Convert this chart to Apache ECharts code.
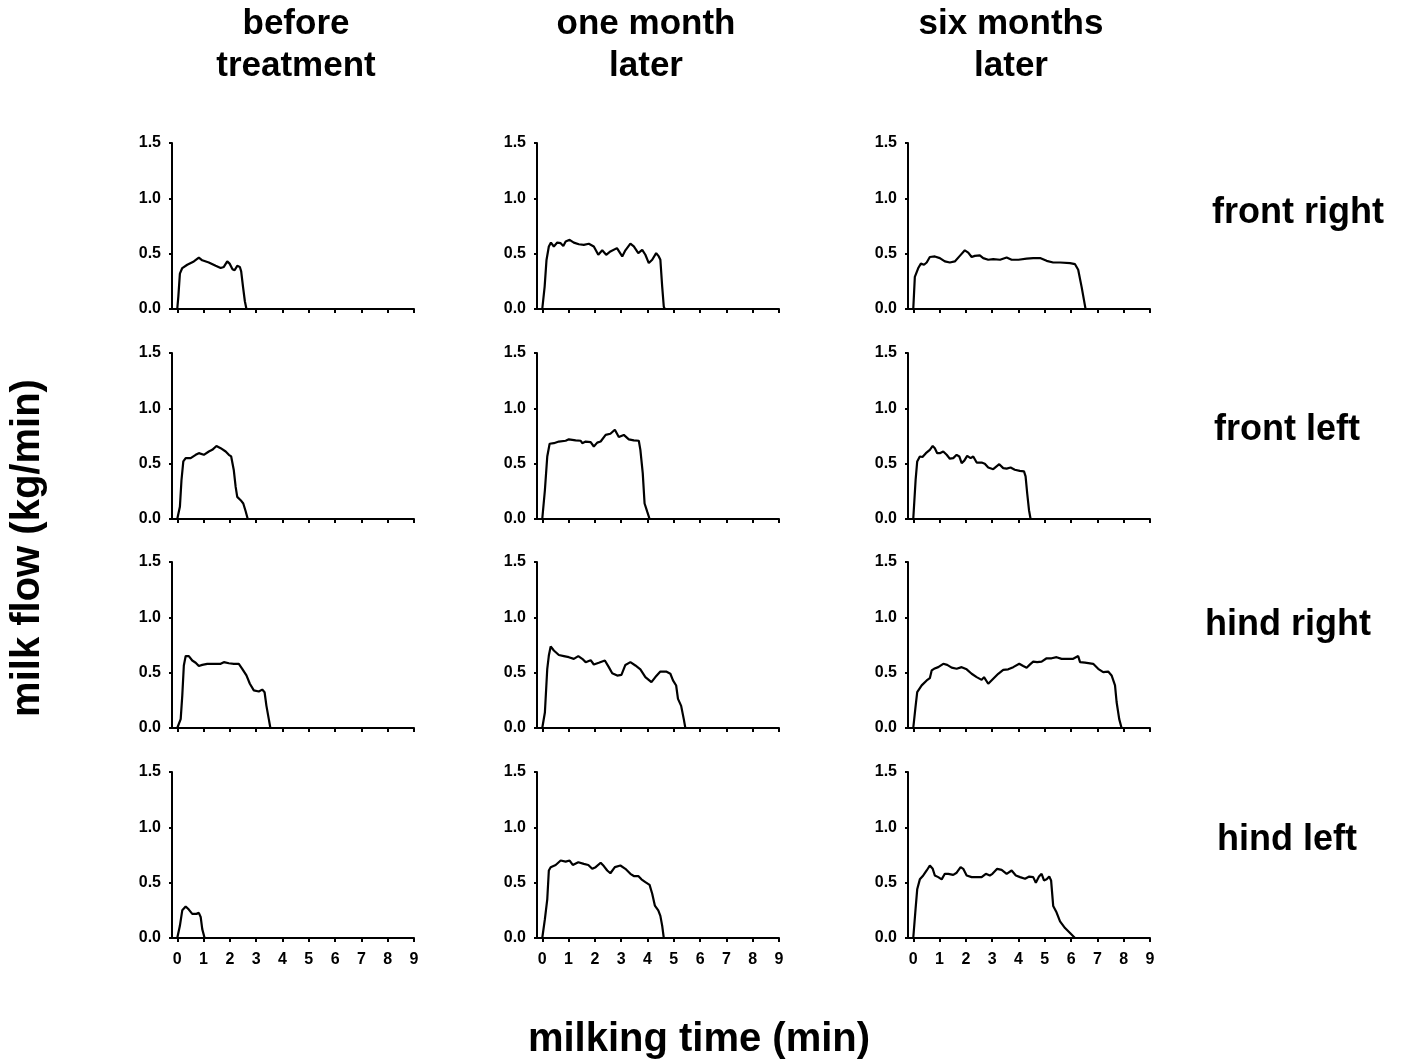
<!DOCTYPE html>
<html>
<head>
<meta charset="utf-8">
<script src="https://cdn.jsdelivr.net/npm/echarts@6/dist/echarts.min.js"></script>
<style>
  html, body { margin: 0; padding: 0; background: #fff; }
  #chart { width: 1404px; height: 1064px; }
</style>
</head>
<body>
<div id="chart"></div>
<script>
// column / row labels
const columnTitles = [['before', 'treatment'], ['one month', 'later'], ['six months', 'later']];
const rowTitles = ['front right', 'front left', 'hind right', 'hind left'];
const xTickValues = [0, 1, 2, 3, 4, 5, 6, 7, 8, 9];
const yTickValues = [0, 0.5, 1.0, 1.5];

// milk flow (kg/min) vs milking time (min), one array per panel
const frontRightBefore = [[0,0],[0.04,0.11],[0.1,0.32],[0.19,0.37],[0.38,0.4],[0.63,0.43],[0.82,0.465],[0.95,0.44],[1.2,0.42],[1.46,0.39],[1.65,0.37],[1.77,0.38],[1.9,0.43],[1.99,0.41],[2.1,0.36],[2.18,0.35],[2.28,0.39],[2.38,0.38],[2.43,0.34],[2.5,0.2],[2.57,0.07],[2.63,0],[9,0]];
const frontRightMonth = [[0,0],[0.09,0.2],[0.16,0.44],[0.25,0.565],[0.33,0.6],[0.44,0.565],[0.57,0.6],[0.7,0.595],[0.8,0.57],[0.89,0.61],[1.04,0.625],[1.2,0.6],[1.39,0.585],[1.58,0.58],[1.77,0.59],[1.96,0.565],[2.13,0.49],[2.28,0.53],[2.43,0.49],[2.59,0.52],[2.84,0.55],[3.04,0.475],[3.16,0.53],[3.35,0.59],[3.48,0.565],[3.65,0.505],[3.8,0.535],[3.92,0.49],[4.05,0.415],[4.18,0.445],[4.33,0.505],[4.43,0.475],[4.49,0.445],[4.56,0.2],[4.62,0.02],[4.66,0],[9,0]];
const frontRightSix = [[0,0],[0.06,0.29],[0.19,0.37],[0.29,0.41],[0.41,0.4],[0.51,0.42],[0.63,0.47],[0.82,0.475],[1.01,0.46],[1.2,0.43],[1.39,0.42],[1.58,0.43],[1.77,0.48],[1.96,0.53],[2.09,0.51],[2.22,0.47],[2.34,0.48],[2.53,0.485],[2.66,0.46],[2.85,0.445],[3.04,0.45],[3.3,0.445],[3.55,0.465],[3.74,0.445],[4.0,0.445],[4.31,0.455],[4.56,0.46],[4.82,0.46],[5.07,0.435],[5.32,0.42],[5.58,0.42],[5.96,0.415],[6.15,0.405],[6.27,0.355],[6.4,0.2],[6.49,0.08],[6.55,0],[9,0]];

const frontLeftBefore = [[0,0],[0.1,0.11],[0.16,0.35],[0.23,0.52],[0.32,0.55],[0.51,0.55],[0.7,0.58],[0.82,0.595],[1.01,0.58],[1.2,0.61],[1.33,0.625],[1.49,0.66],[1.65,0.64],[1.84,0.61],[1.96,0.58],[2.05,0.565],[2.15,0.44],[2.22,0.29],[2.28,0.2],[2.41,0.17],[2.51,0.14],[2.6,0.07],[2.68,0],[9,0]];
const frontLeftMonth = [[0,0],[0.1,0.26],[0.19,0.565],[0.28,0.68],[0.44,0.685],[0.63,0.7],[0.89,0.707],[1.01,0.72],[1.27,0.71],[1.46,0.707],[1.52,0.685],[1.65,0.7],[1.84,0.695],[1.96,0.655],[2.09,0.69],[2.22,0.7],[2.41,0.76],[2.59,0.77],[2.76,0.807],[2.91,0.74],[3.1,0.76],[3.29,0.72],[3.48,0.71],[3.67,0.707],[3.73,0.625],[3.82,0.414],[3.89,0.14],[3.99,0.066],[4.08,0],[9,0]];
const frontLeftSix = [[0,0],[0.09,0.355],[0.15,0.52],[0.25,0.565],[0.35,0.56],[0.48,0.595],[0.63,0.625],[0.74,0.66],[0.82,0.64],[0.91,0.595],[1.01,0.595],[1.14,0.61],[1.27,0.58],[1.39,0.545],[1.52,0.55],[1.65,0.58],[1.75,0.565],[1.84,0.505],[1.94,0.527],[2.05,0.57],[2.18,0.55],[2.28,0.565],[2.41,0.51],[2.6,0.51],[2.72,0.5],[2.85,0.465],[3.04,0.45],[3.27,0.495],[3.42,0.46],[3.55,0.455],[3.7,0.465],[3.86,0.445],[4.05,0.435],[4.21,0.43],[4.27,0.385],[4.33,0.235],[4.4,0.08],[4.46,0],[9,0]];

const hindRightBefore = [[0,0],[0.13,0.08],[0.19,0.29],[0.25,0.565],[0.32,0.65],[0.44,0.65],[0.57,0.61],[0.7,0.59],[0.82,0.56],[0.95,0.57],[1.14,0.58],[1.39,0.58],[1.65,0.58],[1.77,0.595],[1.96,0.585],[2.15,0.58],[2.34,0.58],[2.47,0.535],[2.63,0.475],[2.76,0.4],[2.91,0.34],[3.1,0.33],[3.23,0.347],[3.32,0.323],[3.39,0.2],[3.48,0.08],[3.54,0],[9,0]];
const hindRightMonth = [[0,0],[0.1,0.14],[0.19,0.535],[0.25,0.655],[0.32,0.737],[0.44,0.7],[0.63,0.66],[0.82,0.65],[1.01,0.64],[1.2,0.625],[1.37,0.65],[1.52,0.625],[1.65,0.595],[1.84,0.613],[1.96,0.574],[2.15,0.59],[2.38,0.61],[2.53,0.55],[2.66,0.495],[2.85,0.474],[3.01,0.48],[3.16,0.57],[3.35,0.595],[3.54,0.565],[3.73,0.53],[3.92,0.46],[4.15,0.414],[4.3,0.46],[4.49,0.51],[4.71,0.51],[4.87,0.49],[4.97,0.43],[5.09,0.384],[5.16,0.263],[5.28,0.2],[5.38,0.08],[5.44,0],[9,0]];
const hindRightSix = [[0,0],[0.09,0.2],[0.15,0.325],[0.32,0.385],[0.51,0.43],[0.63,0.45],[0.7,0.52],[0.79,0.535],[0.95,0.55],[1.14,0.58],[1.29,0.57],[1.46,0.545],[1.65,0.535],[1.84,0.55],[2.03,0.53],[2.22,0.49],[2.41,0.46],[2.6,0.435],[2.69,0.46],[2.85,0.4],[3.04,0.445],[3.23,0.49],[3.42,0.525],[3.61,0.53],[3.8,0.55],[4.03,0.58],[4.18,0.56],[4.31,0.545],[4.44,0.575],[4.56,0.6],[4.71,0.595],[4.88,0.6],[5.07,0.63],[5.26,0.63],[5.45,0.64],[5.64,0.625],[5.89,0.625],[6.08,0.625],[6.27,0.65],[6.34,0.595],[6.53,0.59],[6.84,0.58],[7.03,0.535],[7.22,0.505],[7.41,0.51],[7.54,0.475],[7.67,0.385],[7.73,0.235],[7.83,0.08],[7.92,0],[9,0]];

const hindLeftBefore = [[0,0],[0.1,0.11],[0.19,0.25],[0.32,0.285],[0.44,0.257],[0.57,0.218],[0.73,0.218],[0.82,0.227],[0.89,0.19],[0.95,0.08],[1.04,0],[9,0]];
const hindLeftMonth = [[0,0],[0.1,0.17],[0.19,0.35],[0.25,0.61],[0.32,0.64],[0.51,0.66],[0.7,0.7],[0.89,0.69],[1.04,0.7],[1.16,0.66],[1.37,0.685],[1.58,0.67],[1.75,0.66],[1.9,0.625],[2.03,0.64],[2.22,0.68],[2.34,0.65],[2.47,0.61],[2.59,0.585],[2.76,0.64],[2.97,0.655],[3.16,0.625],[3.35,0.58],[3.48,0.56],[3.65,0.56],[3.77,0.53],[3.92,0.505],[4.08,0.48],[4.18,0.4],[4.28,0.293],[4.41,0.25],[4.49,0.2],[4.56,0.11],[4.62,0],[9,0]];
const hindLeftSix = [[0,0],[0.09,0.27],[0.15,0.44],[0.25,0.53],[0.38,0.565],[0.51,0.61],[0.63,0.655],[0.74,0.625],[0.82,0.565],[0.95,0.55],[1.08,0.53],[1.2,0.58],[1.33,0.58],[1.52,0.57],[1.65,0.59],[1.8,0.64],[1.9,0.625],[2.03,0.565],[2.22,0.55],[2.41,0.55],[2.6,0.55],[2.76,0.58],[2.91,0.565],[3.01,0.58],[3.19,0.625],[3.36,0.615],[3.55,0.58],[3.74,0.61],[3.9,0.565],[4.06,0.55],[4.25,0.535],[4.41,0.555],[4.56,0.55],[4.66,0.5],[4.78,0.555],[4.88,0.58],[4.97,0.52],[5.07,0.53],[5.17,0.555],[5.24,0.52],[5.32,0.29],[5.45,0.23],[5.58,0.15],[5.77,0.09],[5.96,0.045],[6.15,0],[9,0]];

const panels = [
  [frontRightBefore, frontRightMonth, frontRightSix],
  [frontLeftBefore, frontLeftMonth, frontLeftSix],
  [hindRightBefore, hindRightMonth, hindRightSix],
  [hindLeftBefore, hindLeftMonth, hindLeftSix]
];

const FONT = '"Liberation Sans", Arial, sans-serif';
const colLefts = [172, 537, 908];
const rowTops = [143, 353, 562, 772];
const gridW = 242;
const gridH = 166;

const grids = [];
const xAxes = [];
const yAxes = [];
const series = [];

panels.forEach((row, r) => {
  row.forEach((data, c) => {
    const idx = grids.length;
    grids.push({ left: colLefts[c], top: rowTops[r], width: gridW, height: gridH });
    xAxes.push({
      gridIndex: idx,
      type: 'value',
      min: -0.2,
      max: 9,
      splitLine: { show: false },
      axisLine: { onZero: false, lineStyle: { color: '#000', width: 2 } },
      axisTick: { customValues: xTickValues, length: 4, lineStyle: { color: '#000', width: 2 } },
      axisLabel: {
        show: r === panels.length - 1,
        customValues: xTickValues,
        margin: 14,
        color: '#000',
        fontFamily: FONT,
        fontWeight: 'bold',
        fontSize: 16
      }
    });
    yAxes.push({
      gridIndex: idx,
      type: 'value',
      min: 0,
      max: 1.5,
      splitLine: { show: false },
      axisLine: { show: true, onZero: false, lineStyle: { color: '#000', width: 2 } },
      axisTick: { show: true, customValues: yTickValues, length: 3, lineStyle: { color: '#000', width: 2 } },
      axisLabel: {
        customValues: yTickValues,
        margin: 11,
        color: '#000',
        fontFamily: FONT,
        fontWeight: 'bold',
        fontSize: 16,
        formatter: (v) => v.toFixed(1)
      }
    });
    series.push({
      type: 'line',
      xAxisIndex: idx,
      yAxisIndex: idx,
      data: data,
      showSymbol: false,
      symbol: 'none',
      silent: true,
      lineStyle: { color: '#000', width: 2.2 },
      z: 1
    });
  });
});

const textStyle = (size) => ({
  fill: '#000',
  font: `bold ${size}px ${FONT}`,
  textAlign: 'center',
  textVerticalAlign: 'middle'
});

const graphic = [];
const colCenters = [296, 646, 1011];
columnTitles.forEach((lines, c) => {
  lines.forEach((t, i) => {
    graphic.push({ type: 'text', x: colCenters[c], y: 24 + i * 42, style: Object.assign({ text: t }, textStyle(35)) });
  });
});
const rowLabelPos = [[1298, 213], [1287, 430], [1288, 625], [1287, 840]];
rowTitles.forEach((t, r) => {
  graphic.push({ type: 'text', x: rowLabelPos[r][0], y: rowLabelPos[r][1], style: Object.assign({ text: t }, textStyle(36)) });
});
graphic.push({ type: 'text', x: 699, y: 1040, style: Object.assign({ text: 'milking time (min)' }, textStyle(40)) });
graphic.push({ type: 'text', x: 28, y: 548, rotation: Math.PI / 2, style: Object.assign({ text: 'milk flow (kg/min)' }, textStyle(40)) });

const chart = echarts.init(document.getElementById('chart'), null, { renderer: 'canvas' });
chart.setOption({
  backgroundColor: '#fff',
  animation: false,
  grid: grids,
  xAxis: xAxes,
  yAxis: yAxes,
  series: series,
  graphic: graphic
});
</script>
</body>
</html>
